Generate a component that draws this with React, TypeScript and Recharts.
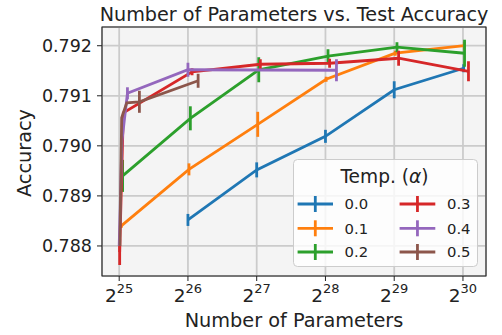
import React from 'react';
import {
  LineChart,
  Line,
  XAxis,
  YAxis,
  CartesianGrid,
  ErrorBar,
  Legend,
  ReferenceArea,
  Label,
} from 'recharts';

// ---------- data (x values are log2 of the number of parameters) ----------
const TEMPS = ['0.0', '0.1', '0.2', '0.3', '0.4', '0.5'];
const X_TICKS = [25, 26, 27, 28, 29, 30];
const Y_TICKS = [0.788, 0.789, 0.79, 0.791, 0.792];

const log2Params00 = [26.0, 27.0, 28.0, 29.0, 30.01];
const acc00 = [0.78852, 0.78952, 0.79019, 0.79112, 0.79155];
const err00 = [0.00012, 0.00015, 0.00013, 0.00017, 0.00008];

const log2Params01 = [25.03, 26.015, 27.015, 28.01, 29.015, 30.02];
const acc01 = [0.7884, 0.78953, 0.79043, 0.79133, 0.79185, 0.792];
const err01 = [0.00004, 0.00012, 0.00025, 0.00005, 0.00005, 0.00008];

const log2Params02 = [25.05, 26.035, 27.03, 28.037, 29.04, 30.023];
const acc02 = [0.7894, 0.79055, 0.79152, 0.79179, 0.79197, 0.79185];
const err02 = [0.00032, 0.00024, 0.00025, 0.00014, 0.0001, 0.00027];

const log2Params03 = [25.007, 25.06, 26.06, 27.053, 28.06, 29.064, 30.08];
const acc03 = [0.78788, 0.79066, 0.79148, 0.79163, 0.79165, 0.79175, 0.79149];
const err03 = [0.00026, 0, 0.00007, 0.0001, 0.00009, 0.00015, 0.0002];

const log2Params04 = [25.0, 25.04, 25.12, 26.0, 28.16];
const acc04 = [0.788, 0.7901, 0.79105, 0.79152, 0.79151];
const err04 = [0, 0, 0.00012, 0.00014, 0.00022];

const log2Params05 = [25.01, 25.036, 25.11, 25.294, 26.148];
const acc05 = [0.788, 0.79056, 0.79086, 0.79088, 0.7913];
const err05 = [0, 0, 0, 0.00022, 0.00014];

// ---------- styles ----------
const COLORS = ['#1f77b4', '#ff7f0e', '#2ca02c', '#d62728', '#9467bd', '#8c564b'];
const FONT = '"DejaVu Sans", sans-serif';
const INK = '#222222';
const LW = 2.8;

const X_DOMAIN: [number, number] = [24.75, 30.335];
const Y_DOMAIN: [number, number] = [0.7874, 0.792374];

function build(xs: number[], ys: number[], es: number[]) {
  return xs.map((x, i) => ({ x, acc: ys[i], err: es[i] }));
}

const SERIES = [
  build(log2Params00, acc00, err00),
  build(log2Params01, acc01, err01),
  build(log2Params02, acc02, err02),
  build(log2Params03, acc03, err03),
  build(log2Params04, acc04, err04),
  build(log2Params05, acc05, err05),
];

function XTick(props: any) {
  const { x, y, payload } = props;
  return (
    <text x={x} y={y + 18.7} textAnchor="middle" fontFamily={FONT} fill={INK}>
      <tspan fontSize={18.5}>2</tspan>
      <tspan fontSize={13} dy={-8.4}>
        {payload.value}
      </tspan>
    </text>
  );
}

function TitleLabel(props: any) {
  const vb = props.viewBox || { x: 102, y: 27, width: 384, height: 249 };
  return (
    <text
      x={vb.x + vb.width / 2}
      y={vb.y - 6.5}
      textAnchor="middle"
      fontFamily={FONT}
      fontSize={19.2}
      fill={INK}
    >
      Number of Parameters vs. Test Accuracy
    </text>
  );
}

function XLabel(props: any) {
  const vb = props.viewBox || { x: 102, y: 276, width: 384, height: 59 };
  return (
    <text
      x={vb.x + vb.width / 2}
      y={326.5}
      textAnchor="middle"
      fontFamily={FONT}
      fontSize={19.3}
      fill={INK}
    >
      Number of Parameters
    </text>
  );
}

function YLabel(props: any) {
  const vb = props.viewBox || { x: 0, y: 27, width: 102, height: 249 };
  const cy = vb.y + vb.height / 2 + 1.5;
  const cx = 30.5;
  return (
    <text
      x={cx}
      y={cy}
      transform={`rotate(-90 ${cx} ${cy})`}
      textAnchor="middle"
      fontFamily={FONT}
      fontSize={19.3}
      fill={INK}
    >
      Accuracy
    </text>
  );
}

function LegendBox(props: any) {
  const payload: any[] = props.payload || [];
  const rowsY = [45, 69.3, 93];
  const cols = [
    { h0: 4.6, h1: 40, tx: 51.6 },
    { h0: 106.6, h1: 142.3, tx: 154 },
  ];
  return (
    <svg width={185} height={108} style={{ display: 'block', overflow: 'visible' }}>
      <rect
        x={0.5}
        y={0.5}
        width={184}
        height={107}
        rx={4}
        ry={4}
        fill="#ffffff"
        fillOpacity={0.8}
        stroke="#cccccc"
        strokeWidth={1}
      />
      <text x={91.5} y={24} textAnchor="middle" fontFamily={FONT} fontSize={18.6} fill={INK}>
        Temp. (<tspan fontStyle="italic">α</tspan>)
      </text>
      {payload.map((entry: any, i: number) => {
        const col = cols[Math.floor(i / 3)];
        const cy = rowsY[i % 3];
        const cx = (col.h0 + col.h1) / 2;
        const c = entry.color;
        return (
          <g key={i}>
            <line x1={col.h0} y1={cy} x2={col.h1} y2={cy} stroke={c} strokeWidth={LW} />
            <line x1={cx} y1={cy - 8} x2={cx} y2={cy + 8} stroke={c} strokeWidth={LW} />
            <text x={col.tx} y={cy + 5.3} fontFamily={FONT} fontSize={14.8} fill={INK}>
              {entry.value}
            </text>
          </g>
        );
      })}
    </svg>
  );
}

export default function App() {
  return (
    <div>
      <style>{'body{margin:0;}'}</style>
      <LineChart width={502} height={335} margin={{ top: 27, right: 16, bottom: 0, left: 0 }}>
        <CartesianGrid fill="#f4f4f4" stroke="#cbcbcb" strokeWidth={1.8} />
        <XAxis
          type="number"
          dataKey="x"
          domain={X_DOMAIN}
          allowDataOverflow
          ticks={X_TICKS}
          interval={0}
          height={59}
          axisLine={false}
          tickLine={{ stroke: INK, strokeWidth: 1 }}
          tickSize={5}
          tickMargin={2}
          tick={<XTick />}
        >
          <Label content={XLabel} />
        </XAxis>
        <YAxis
          type="number"
          domain={Y_DOMAIN}
          allowDataOverflow
          ticks={Y_TICKS}
          interval={0}
          width={102}
          axisLine={false}
          tickLine={{ stroke: INK, strokeWidth: 1 }}
          tickSize={5}
          tickMargin={5}
          tickFormatter={(v: number) => v.toFixed(3)}
          tick={{ fontSize: 17.5, fontFamily: FONT, fill: INK }}
        >
          <Label content={YLabel} />
        </YAxis>
        <ReferenceArea
          x1={X_DOMAIN[0]}
          x2={X_DOMAIN[1]}
          y1={Y_DOMAIN[0]}
          y2={Y_DOMAIN[1]}
          fill="none"
          fillOpacity={0}
          stroke={INK}
          strokeWidth={1.1}
          ifOverflow="visible"
        >
          <Label content={TitleLabel} />
        </ReferenceArea>
        {SERIES.map((data, i) => (
          <Line
            key={TEMPS[i]}
            data={data}
            dataKey="acc"
            name={TEMPS[i]}
            type="linear"
            stroke={COLORS[i]}
            strokeWidth={LW}
            dot={false}
            activeDot={false}
            isAnimationActive={false}
          >
            <ErrorBar
              dataKey="err"
              direction="y"
              width={0}
              stroke={COLORS[i]}
              strokeWidth={LW}
              isAnimationActive={false}
            />
          </Line>
        ))}
        <Legend
          layout="vertical"
          align="center"
          verticalAlign="middle"
          content={LegendBox}
          wrapperStyle={{ position: 'absolute', left: 292.7, top: 159.3, width: 185, height: 108 }}
        />
      </LineChart>
    </div>
  );
}
